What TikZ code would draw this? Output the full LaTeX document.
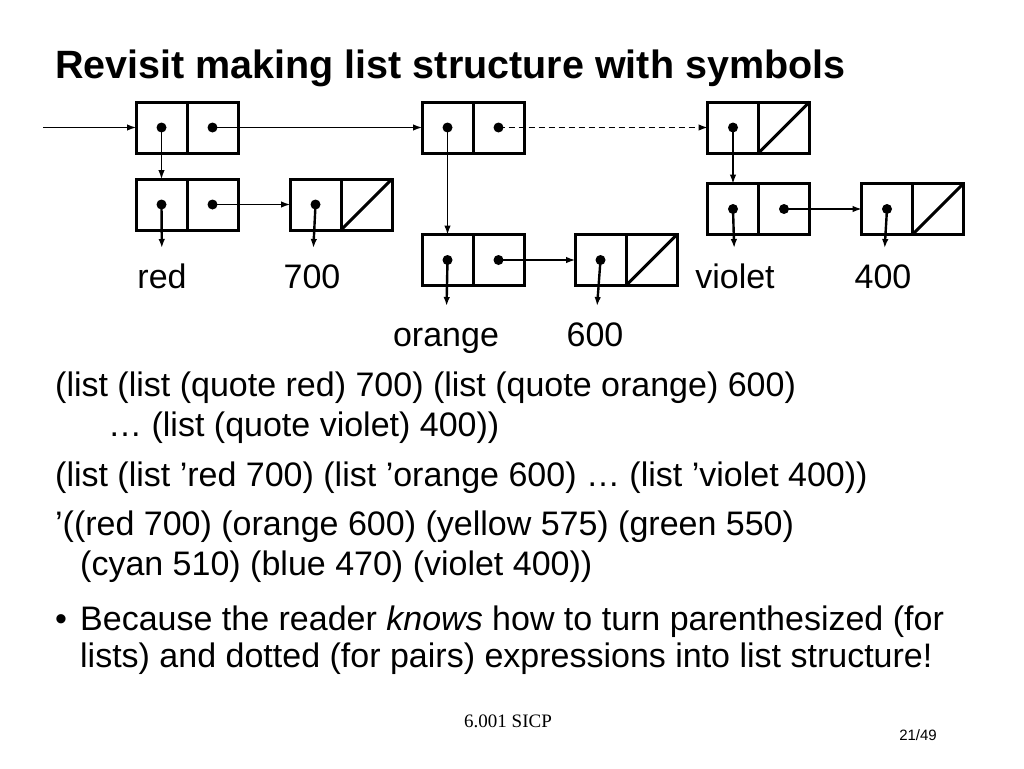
\documentclass[tikz,border=0pt]{standalone}
\usepackage{fontspec}
\setmainfont{Liberation Sans}
\newfontfamily\footfont{Liberation Serif}
\usetikzlibrary{positioning,arrows.meta}

\begin{document}
\begin{tikzpicture}[x=1pt,y=-1pt,
	cell/.style={draw,line width=3pt,minimum width=51pt,minimum height=51pt,inner sep=0pt,outer sep=0pt},
	ptr/.style={line width=1.2pt,-{Latex[length=9pt,width=6.5pt]}},
	bold ptr/.style={ptr,line width=2.4pt,shorten >=16pt},
	nil/.style={line width=3pt},
	lbl/.style={anchor=base,inner sep=0pt,outer sep=0pt,text height=24pt,text depth=0pt,font=\fontsize{34}{40}\selectfont},
	txt/.style={anchor=base west,inner sep=0pt,font=\fontsize{34}{40}\selectfont}]

	\useasboundingbox[fill=white] (0,0) rectangle (1024,768);

	\node[anchor=base west,inner sep=0pt,font=\bfseries\fontsize{39.5}{46}\selectfont] (title) at (55,78) {Revisit making list structure with symbols};

	% pairs
	\node[cell] (a) at (161.5,127.5) {};
	\node[cell,right=0pt of a] (ad) {};
	\node[cell] (b) at (161.5,204.5) {};
	\node[cell,right=0pt of b] (bd) {};
	\node[cell] (c) at (315.5,204.5) {};
	\node[cell,right=0pt of c] (cd) {};
	\node[cell] (d) at (447.5,127.5) {};
	\node[cell,right=0pt of d] (dd) {};
	\node[cell] (e) at (447.5,260) {};
	\node[cell,right=0pt of e] (ed) {};
	\node[cell] (f) at (600.5,260) {};
	\node[cell,right=0pt of f] (fd) {};
	\node[cell] (g) at (733,127.5) {};
	\node[cell,right=0pt of g] (gd) {};
	\node[cell] (h) at (733,209) {};
	\node[cell,right=0pt of h] (hd) {};
	\node[cell] (i) at (887,209) {};
	\node[cell,right=0pt of i] (id) {};

	\foreach \n in {cd,fd,gd,id}
		\draw[nil] (\n.south west) -- (\n.north east);
	\foreach \n in {a,ad,b,bd,c,d,dd,e,ed,f,g,h,hd,i}
		\fill (\n.center) circle (5);

	% symbols and numbers
	\node[lbl] (red) at (162,288) {red};
	\node[lbl] (n700) at (312,288) {700};
	\node[lbl] (orange) at (446,346) {orange};
	\node[lbl] (n600) at (595,346) {600};
	\node[lbl] (violet) at (735,288) {violet};
	\node[lbl] (n400) at (883,288) {400};

	\coordinate (in) at (43,127.5);
	\draw[ptr] (in) -- (a);
	\draw[ptr] (ad.center) -- (d);
	\draw[ptr,dash pattern=on 6pt off 4pt] (dd.center) -- (g);
	\draw[ptr] (a.center) -- (b);
	\draw[ptr] (bd.center) -- (c);
	\draw[ptr] (d.center) -- (e);
	\draw[ptr] (ed.center) -- (f);
	\draw[ptr] (g.center) -- (h);
	\draw[ptr] (hd.center) -- (i);
	\draw[bold ptr] (b.center) -- (red);
	\draw[bold ptr] (c.center) -- (n700);
	\draw[bold ptr] (e.center) -- (orange);
	\draw[bold ptr] (f.center) -- (n600);
	\draw[bold ptr] (h.center) -- (violet);
	\draw[bold ptr] (i.center) -- (n400);

	% text
	\node[txt] (l1) at (55,396) {(list (list (quote red) 700) (list (quote orange) 600)};
	\node[txt] (l2) at (108,436) {… (list (quote violet) 400))};
	\node[txt] (l3) at (55,486) {(list (list ’red 700) (list ’orange 600) … (list ’violet 400))};
	\node[txt] (l4) at (55,535) {’((red 700) (orange 600) (yellow 575) (green 550)};
	\node[txt] (l5) at (80,575) {(cyan 510) (blue 470) (violet 400))};
	\node[txt] (bullet) at (55,630) {•};
	\node[txt] (l6) at (80,630) {Because the reader \textit{knows} how to turn parenthesized (for};
	\node[txt] (l7) at (80,667) {lists) and dotted (for pairs) expressions into list structure!};

	\node[anchor=base west,inner sep=0pt,font=\footfont\fontsize{19}{22}\selectfont] (foot) at (464,727) {6.001 SICP};
	\node[anchor=base east,inner sep=0pt,font=\fontsize{15}{18}\selectfont] (page) at (937,740) {21/49};
\end{tikzpicture}
\end{document}
